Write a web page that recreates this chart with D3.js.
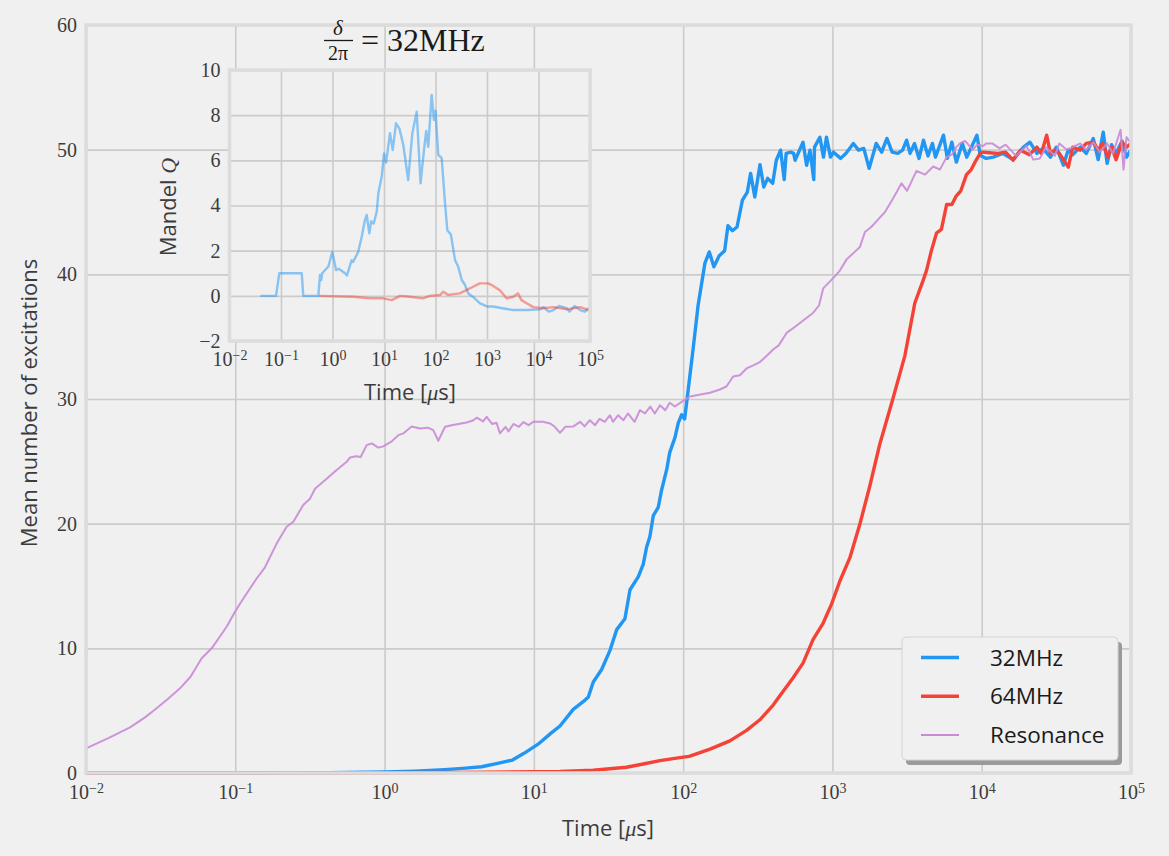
<!DOCTYPE html>
<html>
<head>
<meta charset="utf-8">
<script src="https://cdn.jsdelivr.net/npm/d3@7"></script>
<style>
    body { margin: 0; background: #f0f0f0; }
    svg { display: block; }
    .serif { font-family: "Liberation Serif", "DejaVu Serif", serif; }
    .sans { font-family: "Open Sans", "DejaVu Sans", sans-serif; }
</style>
</head>
<body>
<svg id="chart" width="1169" height="856"></svg>
<script>
// Time is kept as log10(t / 1 µs).
var res = [[-2.0,1.98],[-1.85,2.8],[-1.705,3.66],[-1.6,4.5],[-1.527,5.19],[-1.45,5.95],[-1.37,6.79],[-1.3,7.72],[-1.225,9.2],[-1.158,10.0],[-1.058,11.73],[-1.002,12.94],[-0.946,14.0],[-0.857,15.6],[-0.801,16.5],[-0.723,18.4],[-0.656,19.75],[-0.611,20.15],[-0.545,21.5],[-0.5,22.0],[-0.466,22.8],[-0.388,23.6],[-0.321,24.3],[-0.254,24.96],[-0.232,25.3],[-0.19,25.4],[-0.16,25.35],[-0.12,26.3],[-0.086,26.44],[-0.042,26.1],[-0.009,26.2],[0.048,26.6],[0.092,27.1],[0.125,27.24],[0.181,27.8],[0.237,27.64],[0.29,27.7],[0.326,27.5],[0.36,26.65],[0.405,27.77],[0.45,27.9],[0.495,28.0],[0.55,28.12],[0.595,28.3],[0.617,28.5],[0.66,28.2],[0.684,28.57],[0.72,28.0],[0.75,28.1],[0.773,27.24],[0.81,27.77],[0.83,27.4],[0.863,28.0],[0.9,27.77],[0.93,28.15],[0.965,27.9],[0.996,28.17],[1.06,28.17],[1.11,28.04],[1.14,27.77],[1.175,27.29],[1.21,27.77],[1.265,27.8],[1.31,28.17],[1.34,27.8],[1.375,28.3],[1.41,27.9],[1.44,28.4],[1.475,28.17],[1.51,28.7],[1.53,28.17],[1.565,28.7],[1.6,28.3],[1.63,28.84],[1.675,28.17],[1.71,29.1],[1.745,28.84],[1.78,29.4],[1.81,28.84],[1.845,29.5],[1.88,29.1],[1.91,29.7],[1.945,29.4],[1.99,29.77],[2.046,30.2],[2.09,30.3],[2.135,30.4],[2.18,30.5],[2.246,30.76],[2.29,31.0],[2.335,31.8],[2.38,31.9],[2.425,32.45],[2.47,32.7],[2.514,32.96],[2.56,33.47],[2.603,33.97],[2.64,34.3],[2.693,35.3],[2.75,35.8],[2.804,36.3],[2.87,36.9],[2.91,37.5],[2.938,38.87],[3.005,39.7],[3.05,40.3],[3.095,41.2],[3.14,41.7],[3.184,42.2],[3.218,43.4],[3.26,43.8],[3.296,44.27],[3.352,45.0],[3.407,46.1],[3.463,47.3],[3.5,46.7],[3.563,48.3],[3.62,48.0],[3.675,48.65],[3.72,48.4],[3.765,49.4],[3.8,49.6],[3.83,50.2],[3.854,50.5],[3.888,50.7],[3.94,50.0],[3.97,50.4],[4.01,50.3],[4.03,50.5],[4.07,50.5],[4.12,50.1],[4.16,50.4],[4.23,49.5],[4.3,50.3],[4.345,49.2],[4.39,49.3],[4.43,50.2],[4.49,49.5],[4.52,50.5],[4.57,50.0],[4.61,50.2],[4.66,50.5],[4.7,50.0],[4.75,50.6],[4.79,49.8],[4.84,50.5],[4.88,49.7],[4.93,51.6],[4.95,48.4],[4.97,51.0],[5.0,50.5]];

var mhz32 = [[-2,0],[-1,0],[-0.5,0.01],[0,0.08],[0.2,0.15],[0.4,0.27],[0.523,0.37],[0.65,0.5],[0.78,0.83],[0.857,1.04],[0.934,1.58],[1.036,2.38],[1.113,3.18],[1.175,3.77],[1.264,5.1],[1.343,5.85],[1.365,6.1],[1.398,7.3],[1.454,8.3],[1.51,9.84],[1.555,11.5],[1.61,12.37],[1.644,14.7],[1.7,15.75],[1.733,16.76],[1.755,18.1],[1.777,18.95],[1.8,20.64],[1.833,21.3],[1.855,22.66],[1.89,24.35],[1.91,25.7],[1.945,26.9],[1.967,28.07],[1.99,28.74],[2.01,28.4],[2.034,30.76],[2.068,34.14],[2.1,37.5],[2.146,40.9],[2.175,41.8],[2.206,40.6],[2.242,41.5],[2.278,41.9],[2.3,43.9],[2.33,43.5],[2.361,43.8],[2.397,45.95],[2.43,46.6],[2.452,48.1],[2.48,46.2],[2.515,48.8],[2.54,47.0],[2.566,47.7],[2.6,47.3],[2.624,49.15],[2.653,49.96],[2.677,47.6],[2.69,49.7],[2.72,49.8],[2.74,49.7],[2.75,49.15],[2.803,50.6],[2.827,48.75],[2.85,49.96],[2.875,47.6],[2.88,50.2],[2.916,51.0],[2.94,49.4],[2.96,51.0],[2.987,49.4],[3.007,49.8],[3.055,49.3],[3.09,49.7],[3.14,50.5],[3.175,49.96],[3.21,50.1],[3.246,48.5],[3.293,50.5],[3.33,49.8],[3.365,50.9],[3.4,49.8],[3.437,49.7],[3.47,49.96],[3.497,50.76],[3.52,49.7],[3.55,50.5],[3.58,49.3],[3.61,50.76],[3.64,49.5],[3.67,50.5],[3.69,49.4],[3.744,51.16],[3.77,49.3],[3.8,50.6],[3.83,49.0],[3.87,50.5],[3.9,49.4],[3.968,51.16],[3.99,49.56],[4.03,49.3],[4.077,49.4],[4.14,49.7],[4.21,49.2],[4.28,50.2],[4.323,50.6],[4.37,49.7],[4.41,50.1],[4.46,49.4],[4.5,50.2],[4.547,48.76],[4.58,50.0],[4.61,49.6],[4.66,50.2],[4.7,49.7],[4.747,50.9],[4.78,49.2],[4.814,51.4],[4.84,48.9],[4.87,50.4],[4.9,49.7],[4.94,50.7],[4.97,49.4],[5.0,50.0]];

var mhz64 = [[-2,0],[0,0.02],[0.5,0.05],[1.0,0.1],[1.175,0.12],[1.398,0.22],[1.62,0.46],[1.733,0.72],[1.844,0.99],[1.978,1.23],[2.04,1.33],[2.18,1.91],[2.313,2.58],[2.425,3.42],[2.514,4.27],[2.603,5.45],[2.648,6.2],[2.737,7.64],[2.804,8.83],[2.87,10.7],[2.938,12.03],[2.994,13.55],[3.05,15.4],[3.117,17.27],[3.184,19.97],[3.25,23.0],[3.317,26.37],[3.407,30.1],[3.485,33.46],[3.552,37.7],[3.607,39.5],[3.63,40.3],[3.663,41.9],[3.697,43.3],[3.73,43.6],[3.765,45.6],[3.8,45.6],[3.83,46.3],[3.86,46.7],[3.898,48.0],[3.93,48.4],[3.955,49.0],[3.988,49.66],[4.0,49.8],[4.05,49.75],[4.11,49.7],[4.16,49.8],[4.21,49.16],[4.26,49.96],[4.32,49.6],[4.37,50.2],[4.4,49.7],[4.435,51.16],[4.46,49.7],[4.49,49.96],[4.52,49.7],[4.58,48.6],[4.61,50.2],[4.66,49.96],[4.7,50.5],[4.75,50.6],[4.78,49.96],[4.81,50.5],[4.845,49.4],[4.87,50.2],[4.9,49.2],[4.94,50.6],[4.97,50.2],[5.0,50.5]];

// Inset: Mandel Q
var q32 = [[-1.4,0],[-1.097,0],[-1.033,1.0],[-0.598,1.0],[-0.567,0],[-0.275,0],[-0.243,0.92],[-0.22,0.7],[-0.2,1.0],[-0.112,1.22],[-0.08,1.3],[-0.003,1.95],[0.068,1.14],[0.12,1.2],[0.243,1.0],[0.28,0.9],[0.372,1.58],[0.4,1.5],[0.5,1.95],[0.567,2.62],[0.63,3.36],[0.664,3.58],[0.715,2.77],[0.75,3.3],[0.8,3.2],[0.858,3.72],[0.89,4.54],[0.955,5.27],[1.0,6.3],[1.04,5.9],[1.117,7.2],[1.17,6.46],[1.233,7.64],[1.3,7.4],[1.375,6.68],[1.47,5.13],[1.55,7.2],[1.635,8.15],[1.71,4.98],[1.777,6.46],[1.82,7.3],[1.86,6.6],[1.925,8.9],[1.97,7.78],[2.0,8.2],[2.054,6.24],[2.12,6.1],[2.185,4.1],[2.23,2.9],[2.3,2.7],[2.38,1.58],[2.44,1.3],[2.51,0.7],[2.57,0.5],[2.637,0.1],[2.73,-0.05],[2.864,-0.33],[3.0,-0.47],[3.12,-0.47],[3.3,-0.55],[3.51,-0.63],[3.77,-0.63],[4.03,-0.6],[4.1,-0.5],[4.2,-0.7],[4.29,-0.63],[4.4,-0.45],[4.55,-0.55],[4.6,-0.7],[4.7,-0.45],[4.81,-0.63],[4.9,-0.7],[4.97,-0.55],[5.0,-0.6]];

var q64 = [[-0.26,0],[0.404,-0.04],[0.728,-0.11],[0.986,-0.11],[1.15,-0.19],[1.31,0],[1.5,-0.04],[1.76,-0.11],[1.89,0],[2.09,0.04],[2.15,0.18],[2.25,0.04],[2.47,0.11],[2.6,0.25],[2.73,0.4],[2.86,0.55],[3.025,0.55],[3.12,0.44],[3.25,0.25],[3.38,-0.11],[3.51,-0.04],[3.6,0.11],[3.67,-0.19],[3.77,-0.33],[3.9,-0.5],[4.09,-0.55],[4.29,-0.5],[4.55,-0.6],[4.81,-0.5],[4.97,-0.63],[5.0,-0.55]];

var decades = [1e-2, 1e-1, 1e0, 1e1, 1e2, 1e3, 1e4, 1e5];
var mainYTicks = [0, 10, 20, 30, 40, 50, 60];
var insetYTicks = [-2, 0, 2, 4, 6, 8, 10];
var seriesNames = ["32MHz", "64MHz", "Resonance"];

var BLUE = "#2196f3", RED = "#f44336", PURPLE = "#c98ad6";
var GRID = "#cbcbcb", FRAME = "#dcdcdc";

var svg = d3.select("#chart");

/**
 * Replaces the plain tick text of a log axis with 10 and a superscript.
 */
function powerLabels(sel) {
    sel.selectAll(".tick text").each(function(d) {
        var e = Math.round(Math.log10(d));
        var t = d3.select(this).text(null);
        t.append("tspan").text("10");
        t.append("tspan")
            .attr("dy", "-0.45em")
            .attr("font-size", "0.7em")
            .text(e < 0 ? "\u2212" + (-e) : e);
    });
}

/**
 * Draws grid, frame and tick labels for one set of axes.
 */
function drawAxes(g, x, y, yTicks, box) {
    g.append("rect")
        .attr("x", box.x0).attr("y", box.y0)
        .attr("width", box.x1 - box.x0).attr("height", box.y1 - box.y0)
        .attr("fill", "#f0f0f0");

    g.append("g")
        .attr("transform", "translate(0," + box.y1 + ")")
        .call(d3.axisBottom(x).tickValues(decades).tickSize(-(box.y1 - box.y0)).tickFormat(""))
        .call(function(s) {
            s.select(".domain").remove();
            s.selectAll("line").attr("stroke", GRID).attr("stroke-width", 1.6);
        });

    g.append("g")
        .attr("transform", "translate(" + box.x0 + ",0)")
        .call(d3.axisLeft(y).tickValues(yTicks).tickSize(-(box.x1 - box.x0)).tickFormat(""))
        .call(function(s) {
            s.select(".domain").remove();
            s.selectAll("line").attr("stroke", GRID).attr("stroke-width", 1.6);
        });

    var lines = g.append("g");

    g.append("rect")
        .attr("x", box.x0).attr("y", box.y0)
        .attr("width", box.x1 - box.x0).attr("height", box.y1 - box.y0)
        .attr("fill", "none")
        .attr("stroke", FRAME)
        .attr("stroke-width", 3.5);

    g.append("g")
        .attr("transform", "translate(0," + box.y1 + ")")
        .attr("class", "serif")
        .call(d3.axisBottom(x).tickValues(decades).tickSize(0).tickPadding(box.xPad))
        .call(function(s) {
            s.select(".domain").remove();
            s.selectAll("text").attr("font-family", null).attr("font-size", 20).attr("fill", "#3c3c3c");
        })
        .call(powerLabels);

    g.append("g")
        .attr("transform", "translate(" + box.x0 + ",0)")
        .attr("class", "serif")
        .call(d3.axisLeft(y).tickValues(yTicks).tickSize(0).tickPadding(box.yPad)
            .tickFormat(function(d) { return d < 0 ? "\u2212" + (-d) : d; }))
        .call(function(s) {
            s.select(".domain").remove();
            s.selectAll("text").attr("font-family", null).attr("font-size", 20).attr("fill", "#3c3c3c");
        });

    return lines;
}

function timeLabel(g, cx, cy) {
    var t = g.append("text")
        .attr("class", "sans")
        .attr("x", cx).attr("y", cy)
        .attr("text-anchor", "middle")
        .attr("font-size", 22)
        .attr("fill", "#3c3c3c")
        .text("Time [");
    t.append("tspan").attr("class", "serif").attr("font-style", "italic").text("\u03bc");
    t.append("tspan").text("s]");
}

// ---- main axes
var mainBox = { x0: 86, x1: 1131, y0: 25, y1: 773, xPad: 12, yPad: 9 };
var x = d3.scaleLog().domain([1e-2, 1e5]).range([mainBox.x0, mainBox.x1]);
var y = d3.scaleLinear().domain([0, 60]).range([mainBox.y1, mainBox.y0]);

var mainG = svg.append("g");
var mainLines = drawAxes(mainG, x, y, mainYTicks, mainBox);

var line = d3.line()
    .x(function(d) { return x(Math.pow(10, d[0])); })
    .y(function(d) { return y(d[1]); });

[[mhz32, BLUE, 3.4, 1], [mhz64, RED, 3.4, 1], [res, PURPLE, 2, 0.9]].forEach(function(s) {
    mainLines.append("path")
        .datum(s[0])
        .attr("d", line)
        .attr("fill", "none")
        .attr("stroke", s[1])
        .attr("stroke-width", s[2])
        .attr("stroke-opacity", s[3])
        .attr("stroke-linejoin", "round");
});

timeLabel(mainG, 608, 836);

mainG.append("text")
    .attr("class", "sans")
    .attr("transform", "translate(37,403) rotate(-90)")
    .attr("text-anchor", "middle")
    .attr("font-size", 22)
    .attr("fill", "#3c3c3c")
    .text("Mean number of excitations");

// ---- legend
var leg = mainG.append("g").attr("transform", "translate(902,637)");
leg.append("rect")
    .attr("x", 4).attr("y", 5).attr("width", 216).attr("height", 123).attr("rx", 4)
    .attr("fill", "#9a9a9a");
leg.append("rect")
    .attr("width", 216).attr("height", 123).attr("rx", 4)
    .attr("fill", "#f0f0f0")
    .attr("stroke", "#d4d4d4");
var legColors = [BLUE, RED, PURPLE], legWidths = [3.5, 3.5, 2];
seriesNames.forEach(function(name, i) {
    var yy = 20.5 + i * 38.7;
    leg.append("line")
        .attr("x1", 19).attr("x2", 57).attr("y1", yy).attr("y2", yy)
        .attr("stroke", legColors[i]).attr("stroke-width", legWidths[i]);
    leg.append("text")
        .attr("class", "sans")
        .attr("x", 88).attr("y", yy + 8)
        .attr("font-size", 22.5)
        .attr("fill", "#1a1a1a")
        .text(name);
});

// ---- inset
var insetBox = { x0: 229.5, x1: 590, y0: 70, y1: 341, xPad: 11, yPad: 9 };
var xi = d3.scaleLog().domain([1e-2, 1e5]).range([insetBox.x0, insetBox.x1]);
var yi = d3.scaleLinear().domain([-2, 10]).range([insetBox.y1, insetBox.y0]);

var insetG = svg.append("g");
var insetLines = drawAxes(insetG, xi, yi, insetYTicks, insetBox);

var lineInset = d3.line()
    .x(function(d) { return xi(Math.pow(10, d[0])); })
    .y(function(d) { return yi(d[1]); });

[[q32, BLUE], [q64, RED]].forEach(function(s) {
    insetLines.append("path")
        .datum(s[0])
        .attr("d", lineInset)
        .attr("fill", "none")
        .attr("stroke", s[1])
        .attr("stroke-width", 2.4)
        .attr("stroke-opacity", 0.5)
        .attr("stroke-linejoin", "round");
});

timeLabel(insetG, 410, 400);

var ql = insetG.append("text")
    .attr("class", "sans")
    .attr("transform", "translate(176,207) rotate(-90)")
    .attr("text-anchor", "middle")
    .attr("font-size", 22)
    .attr("fill", "#3c3c3c")
    .text("Mandel ");
ql.append("tspan").attr("class", "serif").attr("font-style", "italic").text("Q");

// title: delta over 2 pi = 32MHz
var title = insetG.append("g").attr("class", "serif").attr("fill", "#1a1a1a");
title.append("text").attr("x", 338).attr("y", 35).attr("text-anchor", "middle")
    .attr("font-size", 21).attr("font-style", "italic").text("\u03b4");
title.append("line").attr("x1", 324).attr("x2", 353).attr("y1", 40.5).attr("y2", 40.5)
    .attr("stroke", "#1a1a1a").attr("stroke-width", 1.3);
title.append("text").attr("x", 338).attr("y", 60).attr("text-anchor", "middle")
    .attr("font-size", 20).text("2\u03c0");
title.append("text").attr("x", 361).attr("y", 51)
    .attr("font-size", 32).text("= 32MHz");
</script>
</body>
</html>
